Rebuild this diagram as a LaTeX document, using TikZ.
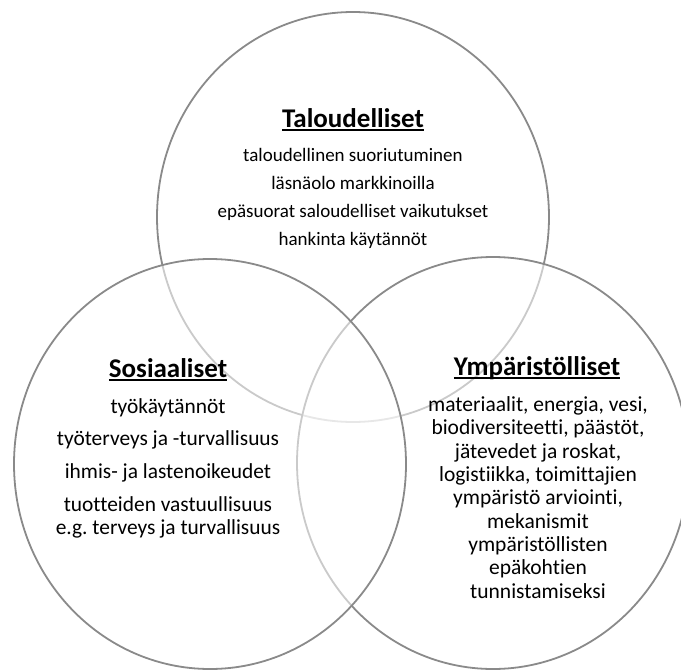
\documentclass[tikz,border=0pt]{standalone}
\usepackage{fontspec}
\setmainfont{Carlito}[Ligatures=NoCommon]
\frenchspacing
\definecolor{ringgray}{HTML}{8A8A8A}
% heading with a flat rule a little below the baseline (crosses descenders)
\newcommand\headrule[1]{\setbox0\hbox{#1}\rlap{\usebox0}\rule[-3.5pt]{\wd0}{1.6pt}}
\begin{document}
\begin{tikzpicture}[x=1pt,y=-1pt,
  ring/.style={draw=ringgray, line width=1.8pt, fill=white, fill opacity=0.55},
  heading/.style={font=\fontsize{27}{30}\selectfont\bfseries, inner sep=0pt, anchor=base},
  listtext/.style={align=center, inner sep=0pt, anchor=north}]
\useasboundingbox (0,0) rectangle (681,670);
% three overlapping rings, later ones veil the earlier outlines
\draw[ring] (353,217) ellipse [x radius=196, y radius=205];
\draw[ring] (493,463) ellipse [x radius=196, y radius=206];
\draw[ring] (210,464) ellipse [x radius=196, y radius=205];

% economic
\node[heading] (econhead) at (353,127) {\headrule{Taloudelliset}};
\node[listtext, font=\fontsize{19}{28}\selectfont] (econlist) at (353,148.5)
  {taloudellinen suoriutuminen\\läsnäolo markkinoilla\\epäsuorat saloudelliset vaikutukset\\hankinta käytännöt};

% social
\node[heading] (sochead) at (168,377) {\headrule{Sosiaaliset}};
\node[listtext, font=\fontsize{21.4}{23}\selectfont] (soclist) at (168,398.5)
  {työkäytännöt\\[9pt]työterveys ja -turvallisuus\\[9.5pt]ihmis- ja lastenoikeudet\\[10pt]tuotteiden vastuullisuus\\e.g. terveys ja turvallisuus};

% environmental
\node[heading] (envhead) at (537,375) {\headrule{Ympäristölliset}};
\node[listtext, font=\fontsize{21.5}{23.3}\selectfont] (envlist) at (538,396.5)
  {materiaalit, energia, vesi,\\biodiversiteetti, päästöt,\\jätevedet ja roskat,\\logistiikka, toimittajien\\ympäristö arviointi,\\mekanismit\\ympäristöllisten\\epäkohtien\\tunnistamiseksi};
\end{tikzpicture}
\end{document}
